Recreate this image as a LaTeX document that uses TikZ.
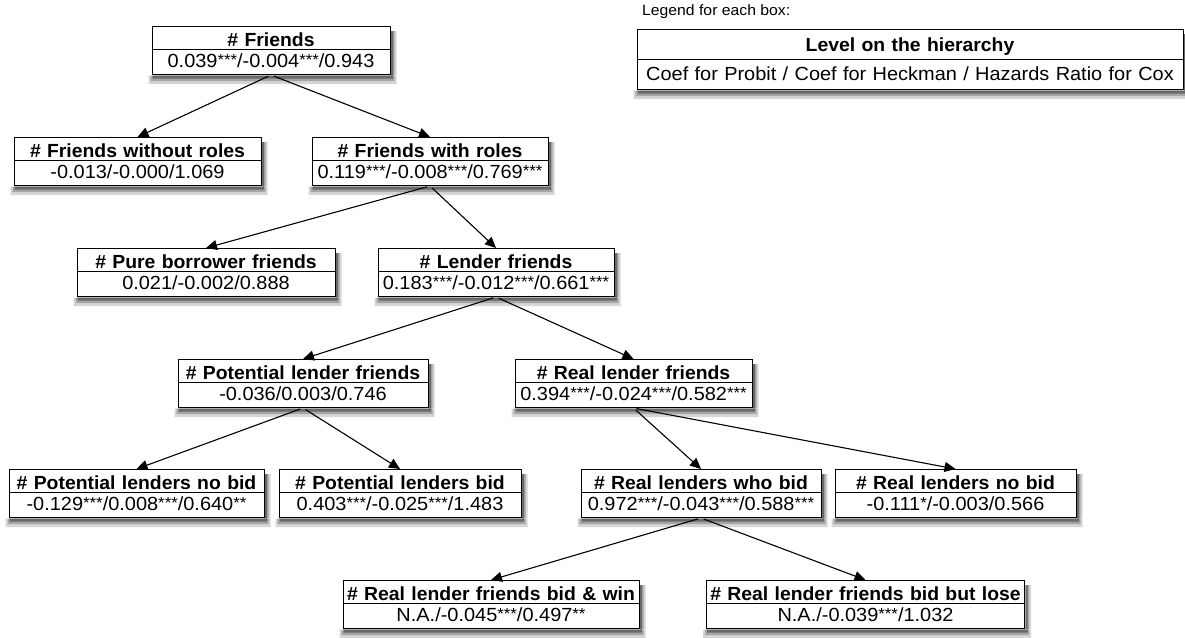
\documentclass[tikz,border=0pt]{standalone}
\usepackage{fontspec}
\setmainfont{Liberation Sans}[FakeStretch=1.05]
\newfontfamily\titlefont{Liberation Sans}[FakeStretch=1.02]
\usetikzlibrary{shapes.multipart,arrows.meta}

\definecolor{shadelight}{RGB}{214,214,214}
\definecolor{shademid}{RGB}{165,165,165}
\definecolor{shadedark}{RGB}{105,105,105}

% significance stars, small and raised
\newcommand\sig[1]{\raisebox{1.5pt}{\fontsize{16}{16}\selectfont#1}}
% two-row box: bold level name on top, coefficients below
\newcommand\hb[2]{\rule[-3pt]{0pt}{22pt}{\titlefont\bfseries#1}\nodepart{two}\rule[-7pt]{0pt}{24pt}#2}
\newcommand\lb[2]{\rule[-8pt]{0pt}{29pt}{\titlefont\bfseries#1}\nodepart{two}\rule[-9pt]{0pt}{29pt}#2}

\tikzset{
  hbox/.style={rectangle split, rectangle split parts=2, draw=black,
    line width=1pt, fill=white, inner xsep=0pt, inner ysep=0pt,
    text width=#1, align=center,
    font=\fontsize{19}{22}\selectfont, anchor=north},
  conn/.style={-{Triangle[length=11pt,width=10pt]}, line width=1.1pt,
    shorten <=3pt},
  shadeA/.style={fill=shadelight},
  shadeB/.style={fill=shademid},
  shadeC/.style={fill=shadedark},
}

\begin{document}
\begin{tikzpicture}[x=1pt,y=-1pt]
\useasboundingbox (0,0) rectangle (1185,637);

% legend
\node[anchor=west, font=\fontsize{15}{18}\selectfont, inner sep=0pt] (legtitle) at (642,12) {Legend for each box:};
\node[hbox=546pt] (legend) at (910,29) {\lb{Level on the hierarchy}{Coef for Probit / Coef for Heckman / Hazards Ratio for Cox}};

% hierarchy
\node[hbox=238pt] (f)    at (271,26)   {\hb{\# Friends}{0.039\sig{***}/-0.004\sig{***}/0.943}};
\node[hbox=247pt] (fnr)  at (137.5,137){\hb{\# Friends without roles}{-0.013/-0.000/1.069}};
\node[hbox=236pt] (fr)   at (430,137)  {\hb{\# Friends with roles}{0.119\sig{***}/-0.008\sig{***}/0.769\sig{***}}};
\node[hbox=258pt] (pb)   at (206,248)  {\hb{\# Pure borrower friends}{0.021/-0.002/0.888}};
\node[hbox=236pt] (lf)   at (496,248)  {\hb{\# Lender friends}{0.183\sig{***}/-0.012\sig{***}/0.661\sig{***}}};
\node[hbox=250pt] (plf)  at (303,359)  {\hb{\# Potential lender friends}{-0.036/0.003/0.746}};
\node[hbox=237pt] (rlf)  at (633.5,359){\hb{\# Real lender friends}{0.394\sig{***}/-0.024\sig{***}/0.582\sig{***}}};
\node[hbox=255pt] (plnb) at (136.5,469){\hb{\# Potential lenders no bid}{-0.129\sig{***}/0.008\sig{***}/0.640\sig{**}}};
\node[hbox=242pt] (plb)  at (400,469)  {\hb{\# Potential lenders bid}{0.403\sig{***}/-0.025\sig{***}/1.483}};
\node[hbox=240pt] (rlb)  at (701,469)  {\hb{\# Real lenders who bid}{0.972\sig{***}/-0.043\sig{***}/0.588\sig{***}}};
\node[hbox=241pt] (rlnb) at (955.5,469){\hb{\# Real lenders no bid}{-0.111\sig{*}/-0.003/0.566}};
\node[hbox=296pt] (win)  at (491,580)  {\hb{\# Real lender friends bid \& win}{N.A./-0.045\sig{***}/0.497\sig{**}}};
\node[hbox=318pt] (lose) at (865.5,580){\hb{\# Real lender friends bid but lose}{N.A./-0.039\sig{***}/1.032}};

% shadow bands along the bottom and right edge of every box
\foreach \n in {legend,f,fnr,fr,pb,lf,plf,rlf,plnb,plb,rlb,rlnb,win,lose}{
  \path[shadeA] ([xshift=-3pt,yshift=-0.5pt]\n.south west) rectangle ([xshift=6pt,yshift=-9pt]\n.south east)
                ([xshift=0.5pt,yshift=-5pt]\n.north east) rectangle ([xshift=6pt]\n.south east);
  \path[shadeB] ([xshift=-1pt,yshift=-0.5pt]\n.south west) rectangle ([xshift=4pt,yshift=-6pt]\n.south east)
                ([xshift=0.5pt,yshift=-5pt]\n.north east) rectangle ([xshift=4pt]\n.south east);
  \path[shadeC] ([xshift=1pt,yshift=-0.5pt]\n.south west) rectangle ([xshift=2.5pt,yshift=-3.5pt]\n.south east)
                ([xshift=0.5pt,yshift=-5pt]\n.north east) rectangle ([xshift=2.5pt]\n.south east);
}

% connectors
\draw[conn] (f.south) -- (fnr.north);
\draw[conn] (f.south) -- (fr.north);
\draw[conn] (fr.south) -- (pb.north);
\draw[conn] (fr.south) -- (lf.north);
\draw[conn] (lf.south) -- (plf.north);
\draw[conn] (lf.south) -- (rlf.north);
\draw[conn] (plf.south) -- (plnb.north);
\draw[conn] (plf.south) -- (plb.north);
\draw[conn] (rlf.south) -- (rlb.north);
\draw[conn] (rlf.south) -- (rlnb.north);
\draw[conn] (rlb.south) -- (win.north);
\draw[conn] (rlb.south) -- (lose.north);
\end{tikzpicture}
\end{document}
